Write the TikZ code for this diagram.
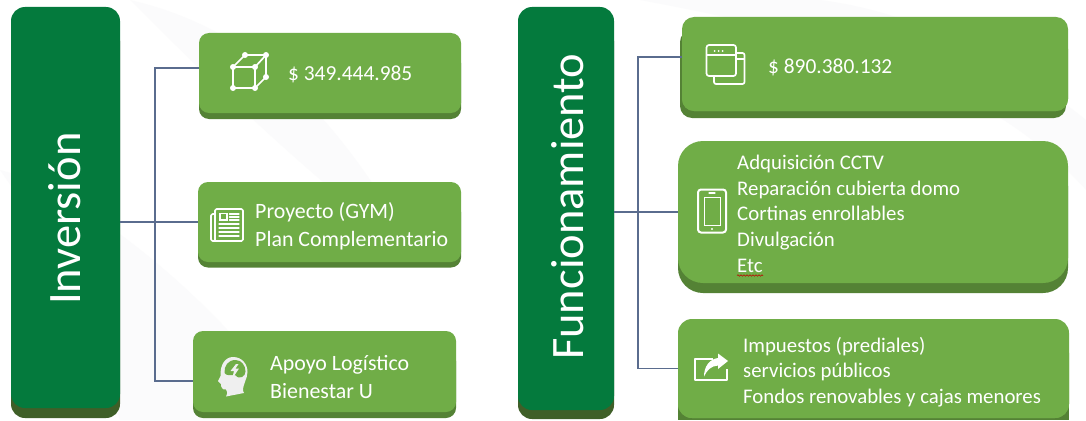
\documentclass[tikz,border=0pt]{standalone}
\usepackage{fontspec}
\setmainfont{Carlito}
\usetikzlibrary{decorations.pathmorphing}
\definecolor{cardgreen}{HTML}{70AD47}
\definecolor{cardshade}{HTML}{548235}
\definecolor{bargreen}{HTML}{047A3D}
\definecolor{barshade}{HTML}{3F5F28}
\definecolor{linkblue}{HTML}{5A6C8E}
\definecolor{swoosh}{HTML}{FBFBFC}
\definecolor{headgray}{HTML}{EFEFEF}
\tikzset{
  link/.style={draw=linkblue,line width=1.1pt},
  cardtext/.style={text=white,anchor=base west,inner sep=0pt,font=\fontsize{21.9}{25}\selectfont},
  smalltext/.style={cardtext,font=\fontsize{20.8}{24}\selectfont},
  moneytext/.style={cardtext,font=\fontsize{21.4}{24}\selectfont},
  bartext/.style={text=white,anchor=base west,inner sep=0pt,rotate=90,font=\fontsize{46.5}{52}\selectfont},
  iconline/.style={draw=white,line width=1.7pt,line join=round,line cap=round},
  iconthin/.style={draw=white,line width=1.1pt,line cap=round},
}
% name, x0, y0, x1, face bottom, shade bottom, radius, face, shade
\newcommand{\cardbox}[9]{%
  \pgfmathsetmacro{\cw}{#4-(#2)}%
  \pgfmathsetmacro{\ch}{#5-(#3)}%
  \pgfmathsetmacro{\cx}{(#2+#4)/2}%
  \pgfmathsetmacro{\cy}{(#3+#5)/2}%
  \fill[#9,rounded corners=#7pt] (#2,#3+20) rectangle (#4,#6);
  \node[fill=#8,rounded corners=#7pt,minimum width=\cw pt,minimum height=\ch pt,inner sep=0pt,outer sep=0pt] (#1) at (\cx,\cy) {};
}
\begin{document}
\begin{tikzpicture}[x=1pt,y=-1pt]
\useasboundingbox (0,0) rectangle (1086,420);
\fill[white] (0,0) rectangle (1086,420);
% faint background swooshes
\fill[swoosh] (130,0) .. controls (260,30) and (340,120) .. (420,260) .. controls (300,170) and (200,70) .. (130,0);
\fill[swoosh] (0,170) .. controls (80,190) and (220,300) .. (300,420) -- (120,420) .. controls (90,330) and (50,240) .. (0,170);
\fill[swoosh] (640,0) .. controls (800,30) and (980,70) .. (1086,190) -- (1086,120) .. controls (1000,50) and (900,10) .. (820,0) -- cycle;
% cards
\cardbox{inv}{11}{7}{120}{408}{418}{14}{bargreen}{barshade}
\cardbox{fun}{518}{7}{614}{410}{419}{14}{bargreen}{barshade}
\cardbox{ca}{199}{33}{461}{113}{119}{10}{cardgreen}{cardshade}
\cardbox{cb}{198}{182}{461}{262}{267.5}{10}{cardgreen}{cardshade}
\cardbox{cc}{193}{331}{456}{412}{418}{10}{cardgreen}{cardshade}
\fill[cardshade,rounded corners=12pt] (680,30) rectangle (1066,118);
\cardbox{ra}{682}{17}{1068}{111}{111}{12}{cardgreen}{cardgreen}
\cardbox{rb}{678}{141}{1068}{283}{293}{25}{cardgreen}{cardshade}
\fill[cardshade] (678,400) rectangle (1069,420);
\cardbox{rc}{678}{319}{1069}{418}{418}{14}{cardgreen}{cardgreen}
% connectors
\coordinate (jl) at (155,223);
\coordinate (jr) at (638,212);
\draw[link] (inv.east |- cb.west) -- (cb.west);
\draw[link] ([yshift=5pt]ca.west) -| (jl) |- ([yshift=-9.5pt]cc.west);
\draw[link] (fun.east |- rb.west) -- (rb.west);
\draw[link] ([yshift=7pt]ra.west) -| (jr) |- (rc.west);
% titles
\node[bartext] (tinv) at (80,305) {Inversión};
\node[bartext] (tfun) at (583,360) {Funcionamiento};
% texts
\node[moneytext] (t1) at (288,81) {\$ 349.444.985};
\node[cardtext] (t2) at (255,218) {Proyecto (GYM)};
\node[cardtext] (t3) at (255,246) {Plan Complementario};
\node[cardtext] (t4) at (270,370) {Apoyo Logístico};
\node[cardtext] (t5) at (270,398) {Bienestar U};
\node[moneytext] (t6) at (768,74) {\$ 890.380.132};
\node[smalltext] (t7) at (737,169) {Adquisición CCTV};
\node[smalltext] (t8) at (737,195) {Reparación cubierta domo};
\node[smalltext] (t9) at (737,220) {Cortinas enrollables};
\node[smalltext] (t10) at (737,246) {Divulgación};
\node[smalltext] (t11) at (737,272) {Etc};
\node[smalltext] (t12) at (743,352) {Impuestos (prediales)};
\node[smalltext] (t13) at (743,377) {servicios públicos};
\node[smalltext] (t14) at (743,403) {Fondos renovables y cajas menores};
\draw[red!75!black,line width=.6pt,decorate,decoration={snake,amplitude=.7pt,segment length=3pt}] (737,275.5) -- (763,275.5);
% cube icon
\draw[iconline] (233,67) rectangle (255,88);
\draw[iconline] (233,67) -- (245,55) -- (266,55) -- (255,67) (266,55) -- (266,77) -- (255,88);
\foreach \px/\py in {233/67,255/67,233/88,255/88,245/55,266/55,266/77}
  \fill[white] (\px,\py) circle (3pt);
% newspaper icon
\draw[iconline,rounded corners=1.5pt] (215,214) -- (211,214) -- (211,241) -- (243,241) -- (243,209) -- (215,209) -- (215,241);
\draw[iconthin] (220,213.5) rectangle (227,220);
\foreach \py in {214,217,220} \draw[iconthin] (229.5,\py) -- (239,\py);
\foreach \py in {224,228,232,236} \draw[iconthin] (219,\py) -- (239,\py);
% head icon
\fill[headgray] (233,357) .. controls (242,357) and (247.5,364) .. (247.5,372)
  .. controls (247.5,379) and (243,383) .. (243,391) -- (244,393) -- (226,396.5)
  .. controls (228,393) and (227,390.5) .. (226,389.5) .. controls (222,390) and (221,387) .. (221,384)
  -- (218,381) -- (220.5,376) .. controls (220,365) and (225,357) .. (233,357) -- cycle;
\fill[cardgreen] (235.5,360) .. controls (242,360) and (245.5,366) .. (245.5,371.5)
  .. controls (245.5,374) and (244,376) .. (242,377) .. controls (240,378) and (238,378) .. (235,375)
  .. controls (231,375) and (226,376) .. (224.5,373) .. controls (224,366) and (228,360) .. (235.5,360) -- cycle;
\fill[headgray] (236,364) -- (230.5,371) -- (234,371) -- (232,379) -- (239,368.5) -- (235.5,368.5) -- (238.5,364) -- cycle;
% window icon
\draw[iconline,rounded corners=2pt] (736,53) -- (744.5,53) -- (744.5,84) -- (714,84) -- (714,76);
\draw[iconline,rounded corners=2.5pt,fill=cardgreen] (706.5,45) rectangle (736,76);
\draw[iconthin] (706.5,55) -- (736,55);
\foreach \px in {714.5,718.5,722.5} \fill[white] (\px,51) circle (1pt);
\draw[iconthin] (736,59) -- (744,59);
% phone icon
\draw[iconline,line width=2pt,rounded corners=3pt] (698,189.5) rectangle (726,232.5);
\draw[iconthin,line width=.9pt] (704,197) rectangle (720,225);
\draw[iconthin] (709,193) -- (715,193);
\fill[white] (712,229) circle (1.2pt);
% share icon
\draw[iconline,line width=2pt,line cap=butt] (713,358.5) -- (694.5,358.5) -- (694.5,379.5) -- (726.5,379.5) -- (726.5,369);
\fill[white] (728,361) -- (718,353.5) -- (718,358) .. controls (710,359) and (704,366) .. (704,376.5)
  .. controls (707,370) and (711,366) .. (718,365.5) -- (718,369) -- cycle;
\end{tikzpicture}
\end{document}
